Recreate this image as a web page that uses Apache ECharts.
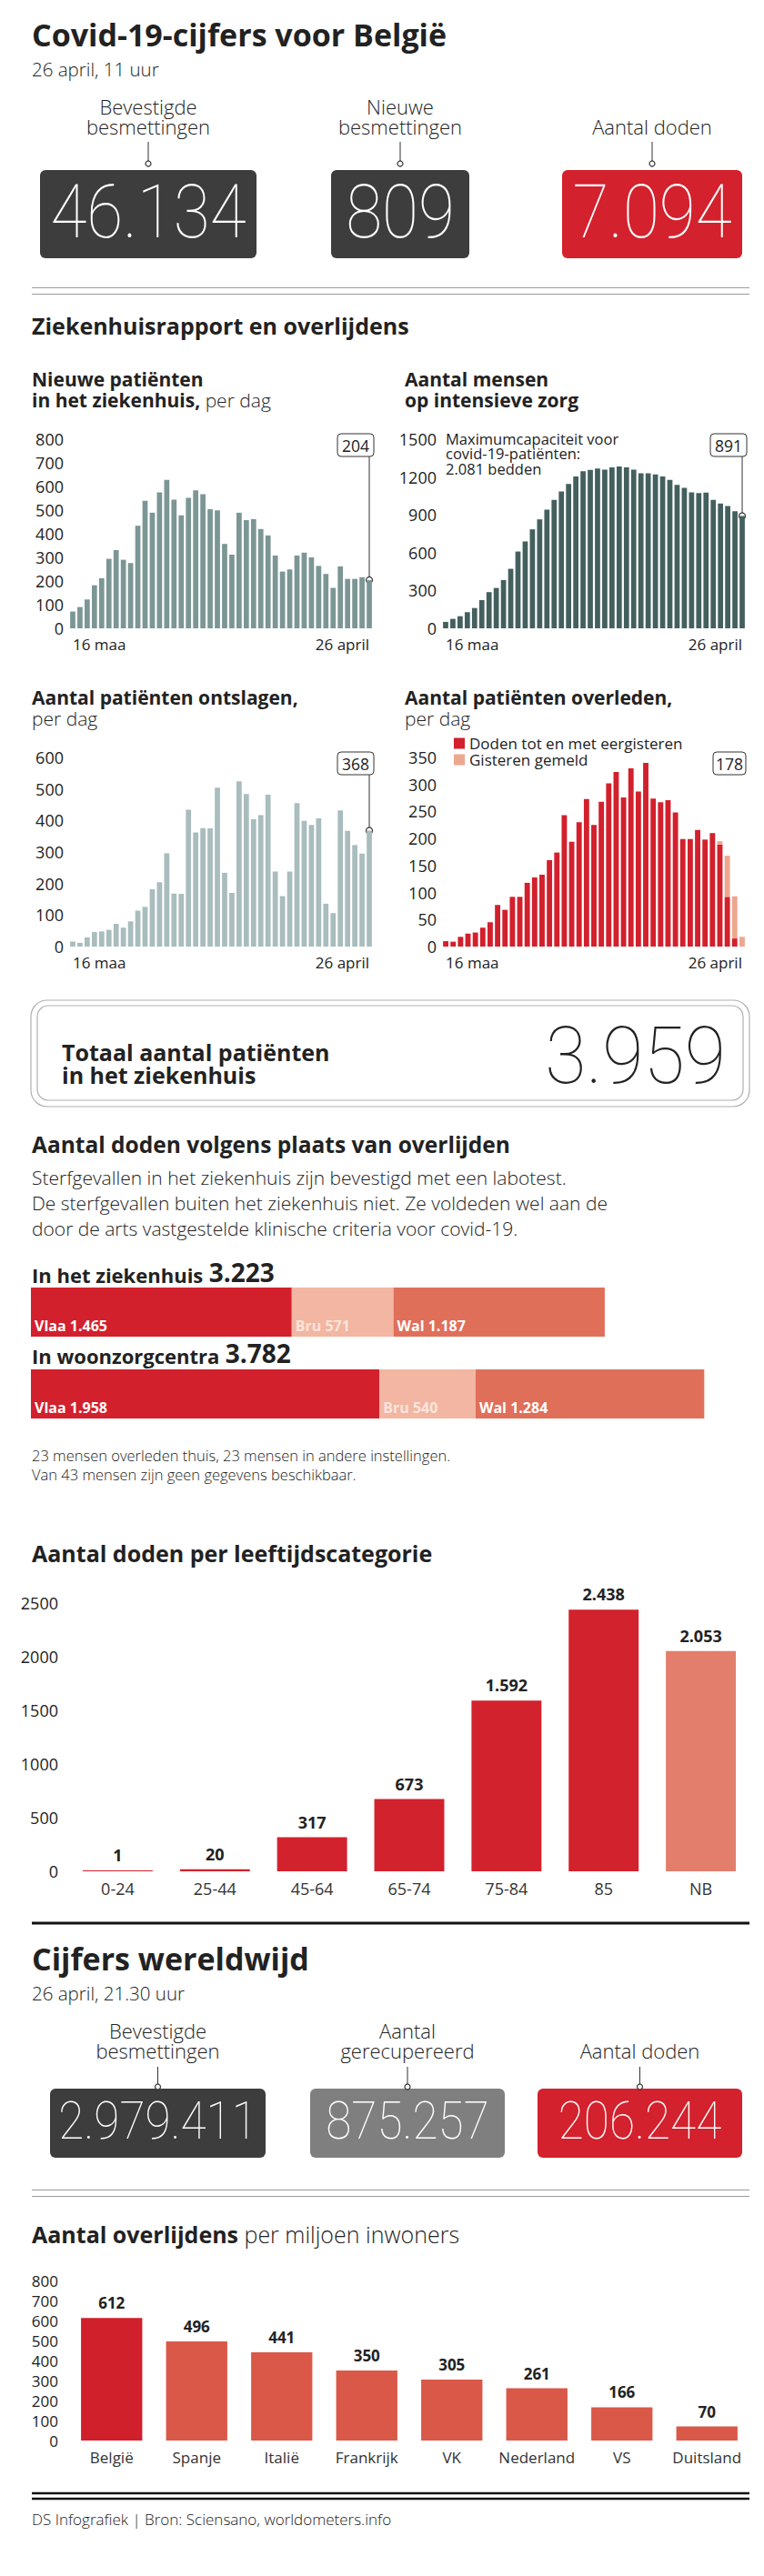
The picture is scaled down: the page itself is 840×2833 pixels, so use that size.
<!DOCTYPE html>
<html><head><meta charset="utf-8">
<script src="https://cdn.jsdelivr.net/npm/echarts@6/dist/echarts.min.js"></script>
<style>html,body{margin:0;padding:0;background:#fff}#c{width:840px;height:2833px}</style>
</head><body><div id="c"></div>
<script>
// ---------- DATA ----------
const dates = ['16 maa','17 maa','18 maa','19 maa','20 maa','21 maa','22 maa','23 maa','24 maa','25 maa','26 maa','27 maa','28 maa','29 maa','30 maa','31 maa',
  '1 april','2 april','3 april','4 april','5 april','6 april','7 april','8 april','9 april','10 april','11 april','12 april','13 april','14 april','15 april',
  '16 april','17 april','18 april','19 april','20 april','21 april','22 april','23 april','24 april','25 april','26 april'];
const deathDates = ['17 maa','18 maa','19 maa','20 maa','21 maa','22 maa','23 maa','24 maa','25 maa','26 maa','27 maa','28 maa','29 maa','30 maa','31 maa',
  '1 april','2 april','3 april','4 april','5 april','6 april','7 april','8 april','9 april','10 april','11 april','12 april','13 april','14 april','15 april',
  '16 april','17 april','18 april','19 april','20 april','21 april','22 april','23 april','24 april','25 april','26 april'];
const xTicks = ['16 maa', '26 april'];

const newPatients = [71,90,122,182,212,294,331,290,276,434,539,489,575,628,544,478,552,584,567,504,499,357,312,489,458,462,420,393,308,240,249,308,320,300,264,230,171,262,209,209,216,204];
const icuPatients = [51,75,96,128,161,224,287,320,383,472,609,689,785,864,941,1019,1086,1144,1204,1245,1257,1267,1259,1276,1283,1276,1259,1230,1230,1221,1204,1177,1137,1115,1079,1072,1076,1019,990,970,929,891];
const discharged = [16,12,29,46,48,53,72,60,80,114,126,182,204,296,168,167,434,362,376,375,504,234,170,524,484,404,417,482,238,160,238,455,399,386,407,136,106,432,367,322,295,368];
const deathsEarlier = [10,9,18,24,26,35,45,77,68,92,92,118,128,133,160,174,243,194,230,273,225,268,302,323,276,330,287,340,274,267,271,248,199,199,216,198,210,189,92,15,0];
const deathsYesterday = [0,0,0,0,0,0,0,0,0,0,0,0,0,0,0,0,0,0,0,0,0,0,0,0,0,0,0,0,0,0,0,0,0,0,0,0,0,6,76,78,18];
const deathSeriesNames = ['Doden tot en met eergisteren', 'Gisteren gemeld'];
const callouts = [204, 891, 368, 178];

const beLabels = [['Bevestigde','besmettingen'], ['Nieuwe','besmettingen'], ['Aantal doden']];
const beValues = [46134, 809, 7094];
const hospitalTotal = 3959;

const regions = ['Vlaa', 'Bru', 'Wal'];
const deathsHospital = [1465, 571, 1187];
const deathsCare = [1958, 540, 1284];

const ageCats = ['0-24','25-44','45-64','65-74','75-84','85','NB'];
const ageDeaths = [1, 20, 317, 673, 1592, 2438, 2053];

const worldLabels = [['Bevestigde','besmettingen'], ['Aantal','gerecupereerd'], ['Aantal doden']];
const worldValues = [2979411, 875257, 206244];

const countries = ['België','Spanje','Italië','Frankrijk','VK','Nederland','VS','Duitsland'];
const perMillion = [612, 496, 441, 350, 305, 261, 166, 70];

// ---------- HELPERS ----------
const FF = '"Open Sans", Lato, sans-serif';
const NF = 'Roboto, "Open Sans", sans-serif';
const INK = '#222';
const LIGHT = 300, BOLD = 700;
const fmt = n => String(n).replace(/\B(?=(\d{3})+(?!\d))/g, '.');
const sum = a => a.reduce((s, v) => s + v, 0);

// single line text, positioned by its baseline
function txt(x, base, text, size, weight, extra) {
  const st = Object.assign({text: text, fontSize: size, fontWeight: weight, fontFamily: FF, fill: INK,
    align: 'left', verticalAlign: 'middle'}, extra || {});
  st.textAlign = st.align; st.textVerticalAlign = st.verticalAlign;
  return {type: 'text', x: x, y: base - 0.35 * size, silent: true, style: st};
}
// multi-line block, positioned by the baseline of its first line
function block(x, firstBase, text, size, weight, lh, extra) {
  const st = Object.assign({text: text, fontSize: size, fontWeight: weight, fontFamily: FF, fill: INK,
    align: 'left', verticalAlign: 'top', lineHeight: lh}, extra || {});
  st.textAlign = st.align; st.textVerticalAlign = st.verticalAlign;
  if (st.rich) Object.keys(st.rich).forEach(k => { st.rich[k].lineHeight = lh; });
  return {type: 'text', x: x, y: firstBase - 0.35 * size - lh / 2, silent: true, style: st};
}
function line(x1, y1, x2, y2, color, w) {
  return {type: 'line', silent: true, shape: {x1, y1, x2, y2}, style: {stroke: color, lineWidth: w}};
}
function rect(x, y, w, h, r, style) {
  return {type: 'rect', silent: true, shape: {x, y, width: w, height: h, r: r}, style: style};
}
function circ(cx, cy, r) {
  return {type: 'circle', silent: true, shape: {cx, cy, r}, style: {fill: '#fff', stroke: '#333', lineWidth: 1.2}};
}
function richBL(size) {
  return {b: {fontSize: size, fontWeight: BOLD, fontFamily: FF, fill: INK},
          l: {fontSize: size, fontWeight: LIGHT, fontFamily: FF, fill: INK}};
}

const chart = echarts.init(document.getElementById('c'), null, {renderer: 'svg'});

function timeX(gi, cats) {
  return {gridIndex: gi, type: 'category', data: cats, boundaryGap: true,
    axisLine: {show: false}, axisTick: {show: false}, splitLine: {show: false},
    axisLabel: {interval: (i) => i === 0 || i === cats.length - 1,
      formatter: (v, i) => (i === 0 ? xTicks[0] : xTicks[1]),
      fontSize: 17, color: INK, fontFamily: FF, margin: 9,
      alignMinLabel: 'left', alignMaxLabel: 'right'}};
}
function catX(gi, cats, size) {
  return {gridIndex: gi, type: 'category', data: cats, boundaryGap: true,
    axisLine: {show: false}, axisTick: {show: false}, splitLine: {show: false},
    axisLabel: {interval: 0, fontSize: size, color: '#333', fontFamily: FF, margin: 10}};
}
function valY(gi, max, interval, margin, size) {
  return {gridIndex: gi, type: 'value', min: 0, max: max, interval: interval,
    axisLine: {show: false}, axisTick: {show: false}, splitLine: {show: false},
    axisLabel: {fontSize: size, color: INK, fontFamily: FF, margin: margin, formatter: v => String(v)}};
}
function hidX(gi) { return {gridIndex: gi, type: 'value', min: 0, max: 4000, show: false}; }
function hidY(gi, name) { return {gridIndex: gi, type: 'category', data: [name], show: false}; }

const regionColors = ['#d2202c', '#f2b6a2', '#e06f5a'];
const regionLabelColors = ['#fff', '#fbe4dc', '#fff'];
function placeSeries(gi, vals) {
  return vals.map((v, i) => ({
    type: 'bar', xAxisIndex: gi, yAxisIndex: gi, stack: 'p' + gi, barWidth: '100%', silent: true,
    data: [v], itemStyle: {color: regionColors[i]},
    label: {show: true, position: 'insideBottomLeft', distance: 4,
      formatter: p => regions[i] + ' ' + fmt(p.value),
      color: regionLabelColors[i], fontWeight: 'bold', fontSize: 16, fontFamily: FF}
  }));
}

const grids = [
  {left: 76, top: 483, width: 334, height: 208},
  {left: 486, top: 483, width: 334, height: 208},
  {left: 76, top: 833, width: 334, height: 208},
  {left: 486, top: 833, width: 334, height: 208},
  {left: 34, top: 1416, width: 783, height: 54},
  {left: 34, top: 1506, width: 783, height: 54},
  {left: 76, top: 1763, width: 748, height: 295},
  {left: 76, top: 2508, width: 748, height: 176}
].map(g => Object.assign({containLabel: false, outerBoundsMode: 'none'}, g));

const option = {
  animation: false,
  backgroundColor: '#fff',
  textStyle: {fontFamily: FF},
  grid: grids,
  legend: {left: 494, top: 804, orient: 'vertical', itemWidth: 12, itemHeight: 12, itemGap: 1,
    icon: 'rect', selectedMode: false, data: deathSeriesNames,
    textStyle: {fontSize: 17, color: INK, fontFamily: FF, padding: [0, 0, 0, 0]}},
  xAxis: [timeX(0, dates), timeX(1, dates), timeX(2, dates), timeX(3, deathDates),
    hidX(4), hidX(5), catX(6, ageCats, 18), catX(7, countries, 17)],
  yAxis: [valY(0, 800, 100, 6, 18), valY(1, 1500, 300, 6, 18), valY(2, 600, 100, 6, 18), valY(3, 350, 50, 6, 18),
    hidY(4, 'In het ziekenhuis'), hidY(5, 'In woonzorgcentra'), valY(6, 2500, 500, 12, 18), valY(7, 800, 100, 12, 17)],
  series: [
    {type: 'bar', xAxisIndex: 0, yAxisIndex: 0, data: newPatients, barWidth: '72%', silent: true, itemStyle: {color: '#7b9695'}},
    {type: 'bar', xAxisIndex: 1, yAxisIndex: 1, data: icuPatients, barWidth: '72%', silent: true, itemStyle: {color: '#43605f'}},
    {type: 'bar', xAxisIndex: 2, yAxisIndex: 2, data: discharged, barWidth: '72%', silent: true, itemStyle: {color: '#a9bcbe'}},
    {type: 'bar', name: deathSeriesNames[0], xAxisIndex: 3, yAxisIndex: 3, stack: 'd', data: deathsEarlier, barWidth: '72%', silent: true, itemStyle: {color: '#d2202c'}},
    {type: 'bar', name: deathSeriesNames[1], xAxisIndex: 3, yAxisIndex: 3, stack: 'd', data: deathsYesterday, barWidth: '72%', silent: true, itemStyle: {color: '#eea78f'}},
    ...placeSeries(4, deathsHospital),
    ...placeSeries(5, deathsCare),
    {type: 'bar', xAxisIndex: 6, yAxisIndex: 6, barWidth: '72%', barMinHeight: 1, silent: true,
      data: ageDeaths.map((v, i) => ({value: v, itemStyle: {color: ageCats[i] === 'NB' ? '#e27e6b' : '#d2222d'}})),
      label: {show: true, position: 'top', distance: 8, formatter: p => fmt(p.value), fontWeight: 'bold', fontSize: 18, color: INK, fontFamily: FF}},
    {type: 'bar', xAxisIndex: 7, yAxisIndex: 7, barWidth: '72%', silent: true,
      data: perMillion.map((v, i) => ({value: v, itemStyle: {color: i === 0 ? '#d0202b' : '#da5848'}})),
      label: {show: true, position: 'top', distance: 8, formatter: p => fmt(p.value), fontWeight: 'bold', fontSize: 17, color: INK, fontFamily: FF}}
  ]
};
chart.setOption(option);

// ---------- GRAPHICS (text, boxes, callouts) ----------
const g = [];
function bigNum(cx, base, val, size, sx, color, align) {
  const t = txt(cx, base, fmt(val), size, 100, {fill: color, align: align || 'center', fontFamily: NF});
  t.scaleX = sx;
  return t;
}
function figureBoxes(boxes, labels, values, o) {
  boxes.forEach((b, i) => {
    const cx = b.x + b.w / 2;
    const ls = labels[i];
    g.push(block(cx, o.lastBase - (ls.length - 1) * o.lh, ls.join('\n'), 22, LIGHT, o.lh, {align: 'center'}));
    g.push(line(cx, o.lineTop, cx, o.lineBottom, '#333', 1));
    g.push(rect(b.x, o.boxTop, b.w, o.boxH, 6, {fill: b.c}));
    g.push(circ(cx, o.circleY, 3));
    g.push(bigNum(cx, o.numBase, values[i], o.numSize, 0.9, '#fff'));
  });
}

// header
g.push(txt(35, 50, 'Covid-19-cijfers voor België', 34, BOLD));
g.push(txt(35, 83, '26 april, 11 uur', 20.5, LIGHT));
figureBoxes([{x: 44, w: 238, c: '#3d3d3d'}, {x: 364, w: 152, c: '#3d3d3d'}, {x: 618, w: 198, c: '#d3212d'}],
  beLabels, beValues,
  {lastBase: 147, lh: 22, lineTop: 156, lineBottom: 177, boxTop: 187, boxH: 97, circleY: 180, numBase: 262, numSize: 81});
g.push(line(35, 316.5, 824, 316.5, '#9a9a9a', 1));
g.push(line(35, 323.5, 824, 323.5, '#9a9a9a', 1));
g.push(txt(35, 367, 'Ziekenhuisrapport en overlijdens', 25, BOLD));

// chart titles
g.push(block(35, 424, '{b|Nieuwe patiënten}\n{b|in het ziekenhuis,} {l|per dag}', 21, 400, 23, {rich: richBL(21)}));
g.push(block(445, 424, 'Aantal mensen\nop intensieve zorg', 21, BOLD, 23));
g.push(block(490, 488, 'Maximumcapaciteit voor\ncovid-19-patiënten:\n2.081 bedden', 16.5, 400, 16.5));
g.push(block(35, 774, '{b|Aantal patiënten ontslagen,}\n{l|per dag}', 21, 400, 23, {rich: richBL(21)}));
g.push(block(445, 774, '{b|Aantal patiënten overleden,}\n{l|per dag}', 21, 400, 23, {rich: richBL(21)}));

// callouts, anchored to the last bar through the axes
const calloutData = [newPatients, icuPatients, discharged];
[0, 1, 2].forEach((si, k) => {
  const arr = calloutData[k];
  const idx = arr.length - 1;
  const p = chart.convertToPixel({seriesIndex: si}, [idx, arr[idx]]);
  const bx = p[0] + 5 - 40, by = grids[si].top - 6;
  g.push(line(p[0], by + 25, p[0], p[1], '#333', 1));
  g.push(rect(bx, by, 40, 25, 4, {fill: '#fff', stroke: '#333', lineWidth: 1}));
  g.push(txt(bx + 20, by + 19, String(callouts[k]), 17.5, 400, {align: 'center'}));
  g.push(circ(p[0], p[1], 3.5));
});
{
  const right = grids[3].left + grids[3].width;
  const bx = right - 36, by = grids[3].top - 6;
  g.push(rect(bx, by, 36, 25, 4, {fill: '#fff', stroke: '#333', lineWidth: 1}));
  g.push(txt(bx + 18, by + 19, String(callouts[3]), 17.5, 400, {align: 'center'}));
}

// total box
g.push(rect(34, 1100, 790, 117, 18, {fill: 'none', stroke: '#b0b0b0', lineWidth: 1.2}));
g.push(rect(41, 1106, 776, 104, 12, {fill: 'none', stroke: '#b0b0b0', lineWidth: 1.2}));
g.push(block(68, 1166, 'Totaal aantal patiënten\nin het ziekenhuis', 25, BOLD, 25));
g.push(bigNum(798, 1192, hospitalTotal, 87, 0.95, INK, 'right'));

// place of death
g.push(txt(35, 1267, 'Aantal doden volgens plaats van overlijden', 24.5, BOLD));
g.push(block(35, 1302, 'Sterfgevallen in het ziekenhuis zijn bevestigd met een labotest.\nDe sterfgevallen buiten het ziekenhuis niet. Ze voldeden wel aan de\ndoor de arts vastgestelde klinische criteria voor covid-19.', 21, LIGHT, 28));
const richHead = {a: {fontSize: 22, fontWeight: BOLD, fontFamily: FF, fill: INK, verticalAlign: 'bottom'},
  n: {fontSize: 28, fontWeight: BOLD, fontFamily: FF, fill: INK, verticalAlign: 'bottom'}};
const h1 = txt(35, 1408, '{a|In het ziekenhuis} {n|' + fmt(sum(deathsHospital)) + '}', 25, 400); h1.style.rich = richHead; g.push(h1);
const h2 = txt(35, 1497, '{a|In woonzorgcentra} {n|' + fmt(sum(deathsCare)) + '}', 25, 400); h2.style.rich = richHead; g.push(h2);
g.push(block(35, 1606, '23 mensen overleden thuis, 23 mensen in andere instellingen.\nVan 43 mensen zijn geen gegevens beschikbaar.', 16.5, LIGHT, 21));

// age
g.push(txt(35, 1717, 'Aantal doden per leeftijdscategorie', 25, BOLD));
g.push(line(35, 2115, 824, 2115, '#111', 3));

// world
g.push(txt(35, 2166, 'Cijfers wereldwijd', 34, BOLD));
g.push(txt(35, 2199, '26 april, 21.30 uur', 20.5, LIGHT));
figureBoxes([{x: 55, w: 237, c: '#3d3d3d'}, {x: 341, w: 214, c: '#7f7f7f'}, {x: 591, w: 225, c: '#d3212d'}],
  worldLabels, worldValues,
  {lastBase: 2263, lh: 22, lineTop: 2273, lineBottom: 2293, boxTop: 2297, boxH: 76, circleY: 2295, numBase: 2353, numSize: 57});
g.push(line(35, 2408.5, 824, 2408.5, '#9a9a9a', 1));
g.push(line(35, 2415.5, 824, 2415.5, '#9a9a9a', 1));
const ph = txt(35, 2466, '{b|Aantal overlijdens} {l|per miljoen inwoners}', 25, 400); ph.style.rich = richBL(25); g.push(ph);
g.push(line(35, 2742, 824, 2742, '#111', 2.5));
g.push(line(35, 2748, 824, 2748, '#111', 2.5));
g.push(txt(35, 2776, 'DS Infografiek | Bron: Sciensano, worldometers.info', 17, LIGHT));

chart.setOption({graphic: {elements: g}});
</script></body></html>
